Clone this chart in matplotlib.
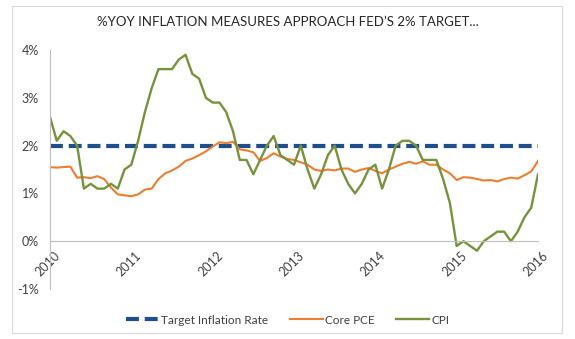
import matplotlib
matplotlib.use("Agg")
import matplotlib.pyplot as plt
import matplotlib.transforms as mtransforms
import numpy as np
from matplotlib.patches import Rectangle

plt.rcParams['font.family'] = ['Lato', 'DejaVu Sans']

# monthly values, Jan 2010 .. Jan 2016
cpi = [2.6, 2.1, 2.3, 2.2, 2.0, 1.1, 1.2, 1.1, 1.1, 1.2, 1.1, 1.5,
       1.6, 2.1, 2.7, 3.2, 3.6, 3.6, 3.6, 3.8, 3.9, 3.5, 3.4, 3.0,
       2.9, 2.9, 2.7, 2.3, 1.7, 1.7, 1.4, 1.7, 2.0, 2.2, 1.8, 1.7,
       1.6, 2.0, 1.5, 1.1, 1.4, 1.8, 2.0, 1.5, 1.2, 1.0, 1.2, 1.5,
       1.6, 1.1, 1.5, 2.0, 2.1, 2.1, 2.0, 1.7, 1.7, 1.7, 1.3, 0.8,
       -0.1, 0.0, -0.1, -0.2, 0.0, 0.1, 0.2, 0.2, 0.0, 0.2, 0.5, 0.7,
       1.4]
core_pce = [1.55, 1.54, 1.55, 1.56, 1.33, 1.34, 1.32, 1.36, 1.3, 1.12, 0.98, 0.96,
            0.94, 0.98, 1.08, 1.1, 1.3, 1.42, 1.48, 1.56, 1.68, 1.73, 1.8, 1.88,
            1.98, 2.07, 2.05, 2.08, 1.92, 1.9, 1.86, 1.68, 1.74, 1.84, 1.77, 1.72,
            1.7, 1.65, 1.6, 1.5, 1.47, 1.5, 1.48, 1.52, 1.52, 1.45, 1.5, 1.53,
            1.47, 1.42, 1.5, 1.56, 1.62, 1.66, 1.62, 1.67, 1.6, 1.6, 1.5, 1.42,
            1.28, 1.34, 1.33, 1.3, 1.27, 1.28, 1.25, 1.3, 1.33, 1.31, 1.38, 1.46,
            1.68]
target = [2.0] * len(cpi)
years = ['2010', '2011', '2012', '2013', '2014', '2015', '2016']

months = np.arange(len(cpi))

fig = plt.figure(figsize=(5.75, 3.39), dpi=100)
fig.patches.append(Rectangle((12/575, 1-333/339), 550/575, 327/339, transform=fig.transFigure,
                             fill=False, edgecolor='#D9D9D9', lw=0.8))
ax = fig.add_axes([50/575, 1-289/339, 488/575, 239/339])

ax.plot(months, target, color='#1F4E8C', lw=3, dashes=(3.1, 1.4), label='Target Inflation Rate')
ax.plot(months, core_pce, color='#ED7D31', lw=1.5, label='Core PCE')
ax.plot(months, cpi, color='#76923C', lw=1.7, label='CPI')

ax.set_ylim(-1, 4)
ax.set_xlim(0, 72)
ax.set_yticks([-1, 0, 1, 2, 3, 4])
ax.set_yticklabels(['-1%', '0%', '1%', '2%', '3%', '4%'])
ax.set_xticks(np.arange(0, 73, 12))
ax.set_xticklabels(years)

for s in ['top', 'right']:
    ax.spines[s].set_visible(False)
ax.spines['bottom'].set_position(('data', 0))
ax.spines['bottom'].set_color('#BFBFBF')
ax.spines['left'].set_color('#BFBFBF')
ax.tick_params(length=0, labelsize=9, colors='#404040')
ax.tick_params(axis='y', pad=8)
ax.tick_params(axis='x', pad=6)
shift = mtransforms.ScaledTranslation(4/100, 0, fig.dpi_scale_trans)
for lab in ax.get_xticklabels():
    lab.set_rotation(45)
    lab.set_ha('right')
    lab.set_va('top')
    lab.set_rotation_mode('anchor')
    lab.set_transform(lab.get_transform() + shift)

fig.text(0.5, 1-22/339, '%YOY INFLATION MEASURES APPROACH FED’S 2% TARGET...',
         ha='center', va='center', fontsize=9.5, color='#262626')

fig.legend(loc='center', bbox_to_anchor=(0.5, 1-320/339), ncol=3, frameon=False,
           fontsize=8.5, handlelength=2.8, columnspacing=1.8, handletextpad=0.2,
           labelcolor='#404040')

fig.savefig('out.png', dpi=100)
